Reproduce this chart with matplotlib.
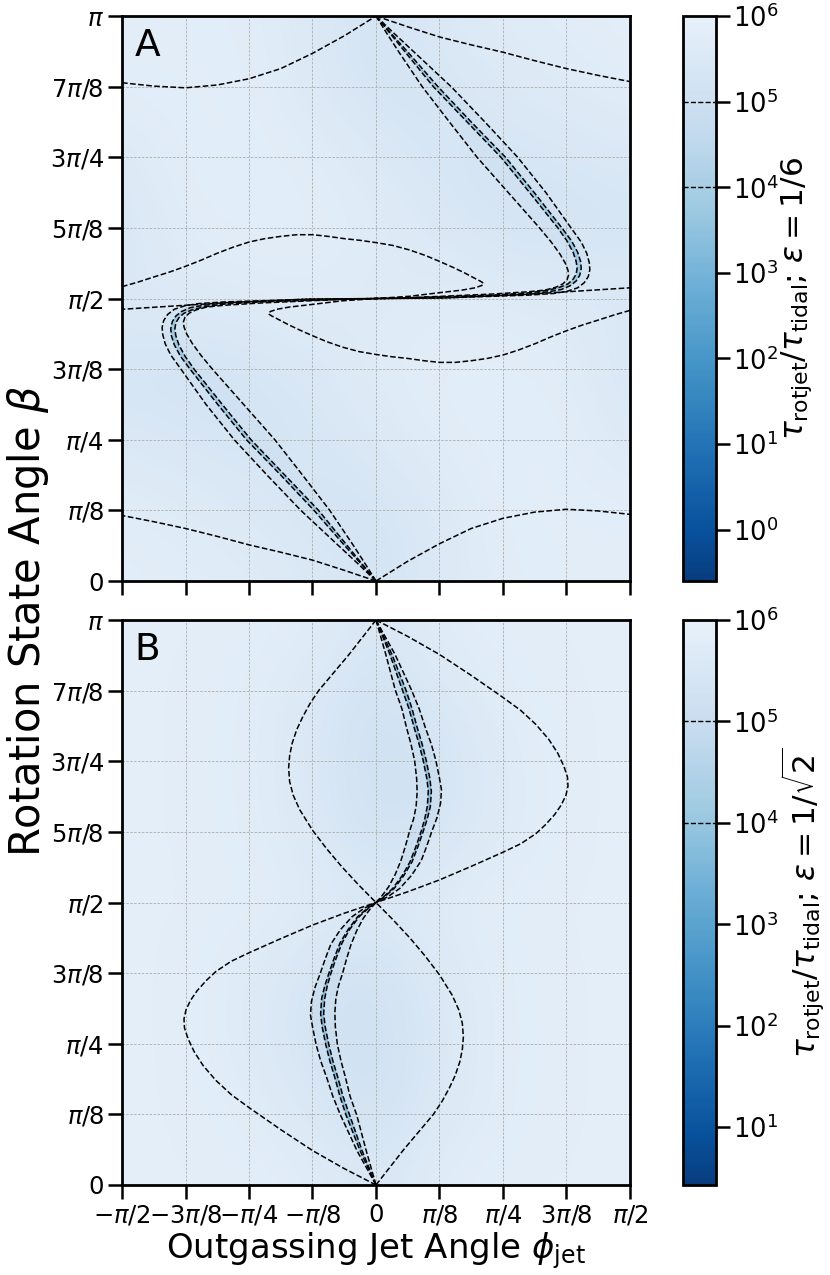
import numpy as np
import matplotlib
matplotlib.use("Agg")
import matplotlib.pyplot as plt
from matplotlib.colors import LogNorm, ListedColormap

PI = np.pi

# ---------------- axis ticks (units of pi) ----------------
x_ticks = [-0.5, -0.375, -0.25, -0.125, 0, 0.125, 0.25, 0.375, 0.5]
x_tick_labels = [r'$-\pi/2$', r'$-3\pi/8$', r'$-\pi/4$', r'$-\pi/8$', r'$0$',
                 r'$\pi/8$', r'$\pi/4$', r'$3\pi/8$', r'$\pi/2$']
y_ticks = [0, 0.125, 0.25, 0.375, 0.5, 0.625, 0.75, 0.875, 1.0]
y_tick_labels = [r'$0$', r'$\pi/8$', r'$\pi/4$', r'$3\pi/8$', r'$\pi/2$',
                 r'$5\pi/8$', r'$3\pi/4$', r'$7\pi/8$', r'$\pi$']

# ---------------- colour scale ranges (log10) ----------------
A_log_min, A_log_max = -0.6, 6.0
B_log_min, B_log_max = 0.43, 6.0
contour_levels = [1e4, 1e5]

# ---------------- coarse background field, log10 values ----------------
# rows: beta = 0 .. pi (step pi/8); cols: phi = -pi/2 .. pi/2 (step pi/8)
A_field_log = [
    [5.80, 5.75, 5.70, 5.55, 5.15, 5.55, 5.75, 5.80, 5.80],
    [5.75, 5.65, 5.55, 5.30, 5.20, 5.55, 5.80, 5.80, 5.80],
    [5.50, 5.40, 5.30, 5.30, 5.55, 5.75, 5.80, 5.80, 5.55],
    [5.30, 5.20, 5.25, 5.50, 5.70, 5.80, 5.80, 5.75, 5.35],
    [5.55, 5.60, 5.65, 5.70, 5.60, 5.70, 5.65, 5.60, 5.55],
    [5.35, 5.75, 5.80, 5.80, 5.70, 5.50, 5.25, 5.20, 5.30],
    [5.55, 5.80, 5.80, 5.75, 5.55, 5.30, 5.30, 5.40, 5.50],
    [5.80, 5.80, 5.80, 5.55, 5.20, 5.30, 5.55, 5.65, 5.75],
    [5.80, 5.80, 5.75, 5.55, 5.15, 5.55, 5.70, 5.75, 5.80],
]
B_field_log = [
    [5.85, 5.85, 5.85, 5.80, 5.45, 5.80, 5.85, 5.85, 5.85],
    [5.85, 5.85, 5.80, 5.55, 5.20, 5.60, 5.80, 5.85, 5.85],
    [5.85, 5.85, 5.70, 5.30, 5.10, 5.55, 5.80, 5.85, 5.85],
    [5.85, 5.85, 5.70, 5.40, 5.20, 5.60, 5.80, 5.85, 5.85],
    [5.85, 5.85, 5.85, 5.75, 5.60, 5.75, 5.85, 5.85, 5.85],
    [5.85, 5.85, 5.80, 5.60, 5.20, 5.40, 5.70, 5.85, 5.85],
    [5.85, 5.85, 5.80, 5.55, 5.10, 5.30, 5.70, 5.85, 5.85],
    [5.85, 5.85, 5.80, 5.60, 5.20, 5.55, 5.80, 5.85, 5.85],
    [5.85, 5.85, 5.85, 5.80, 5.45, 5.80, 5.85, 5.85, 5.85],
]
# log10 value inside the 1e5 band and inside the 1e4 band
band_outer_log = 4.8
band_inner_log = 3.5

# ---------------- contour curves, panel A (phi/pi, beta/pi) ----------------
A_T1 = [(0, 1), (0.0625, 0.981), (0.125, 0.963), (0.1875, 0.949), (0.25, 0.936),
        (0.3125, 0.921), (0.375, 0.907), (0.4375, 0.895), (0.5, 0.884)]
A_T2 = [(-0.5, 0.882), (-0.4375, 0.876), (-0.375, 0.873), (-0.3125, 0.878), (-0.25, 0.889),
        (-0.1875, 0.907), (-0.125, 0.934), (-0.0625, 0.965), (0, 1)]
A_T3 = [(0, 0), (-0.0625, 0.019), (-0.125, 0.037), (-0.1875, 0.051), (-0.25, 0.064),
        (-0.3125, 0.079), (-0.375, 0.093), (-0.4375, 0.105), (-0.5, 0.116)]
A_T4 = [(0, 0), (0.0625, 0.035), (0.125, 0.066), (0.1875, 0.093), (0.25, 0.111),
        (0.3125, 0.122), (0.375, 0.127), (0.4375, 0.124), (0.5, 0.118)]
A_L1a = [(0, 0.5), (0.131, 0.501), (0.289, 0.507), (0.394, 0.513), (0.5, 0.519)]
A_L1b = [(-0.5, 0.521), (-0.469, 0.529), (-0.438, 0.538), (-0.406, 0.547), (-0.375, 0.557),
         (-0.344, 0.568), (-0.313, 0.580), (-0.281, 0.591), (-0.25, 0.600), (-0.219, 0.606),
         (-0.188, 0.610), (-0.156, 0.613), (-0.125, 0.613), (-0.094, 0.610), (-0.0625, 0.606),
         (-0.031, 0.603), (0, 0.599), (0.033, 0.594), (0.066, 0.586), (0.098, 0.576),
         (0.127, 0.565), (0.152, 0.555), (0.173, 0.546), (0.192, 0.537), (0.205, 0.531),
         (0.212, 0.527), (0.208, 0.523), (0.195, 0.519), (0.170, 0.515), (0.131, 0.511),
         (0.066, 0.504), (0, 0.5)]
A_L2a = [(0, 0.5), (-0.131, 0.499), (-0.289, 0.493), (-0.394, 0.487), (-0.5, 0.481)]
A_L2b = [(0.5, 0.479), (0.469, 0.471), (0.438, 0.462), (0.406, 0.453), (0.375, 0.443),
         (0.344, 0.432), (0.313, 0.420), (0.281, 0.409), (0.25, 0.400), (0.219, 0.394),
         (0.188, 0.390), (0.156, 0.387), (0.125, 0.387), (0.094, 0.390), (0.0625, 0.394),
         (0.031, 0.397), (0, 0.401), (-0.033, 0.406), (-0.066, 0.414), (-0.098, 0.424),
         (-0.127, 0.435), (-0.152, 0.445), (-0.173, 0.454), (-0.192, 0.463), (-0.205, 0.469),
         (-0.212, 0.473), (-0.208, 0.477), (-0.195, 0.481), (-0.170, 0.485), (-0.131, 0.489),
         (-0.066, 0.496), (0, 0.5)]
A_SA1 = [(0, 1), (0.023, 0.967), (0.046, 0.935), (0.091, 0.875), (0.145, 0.812), (0.199, 0.750),
         (0.261, 0.687), (0.322, 0.625), (0.345, 0.600), (0.362, 0.579), (0.373, 0.562),
         (0.378, 0.550), (0.379, 0.541), (0.376, 0.533), (0.368, 0.526), (0.354, 0.520),
         (0.333, 0.515), (0.300, 0.512), (0.230, 0.508), (0.131, 0.504), (0.052, 0.501), (0, 0.5)]
A_SA2 = [(0, 1), (0.028, 0.969), (0.056, 0.938), (0.113, 0.875), (0.180, 0.812), (0.246, 0.750),
         (0.303, 0.687), (0.358, 0.625), (0.376, 0.602), (0.388, 0.582), (0.394, 0.566),
         (0.396, 0.554), (0.394, 0.543), (0.388, 0.534), (0.378, 0.526), (0.362, 0.520),
         (0.340, 0.515), (0.300, 0.510), (0.230, 0.506), (0.131, 0.503), (0, 0.5)]
A_SA3 = [(0, 1), (0.030, 0.969), (0.061, 0.938), (0.122, 0.875), (0.188, 0.812), (0.255, 0.750),
         (0.312, 0.687), (0.366, 0.625), (0.385, 0.602), (0.397, 0.582), (0.403, 0.565),
         (0.404, 0.553), (0.401, 0.541), (0.394, 0.531), (0.383, 0.523), (0.365, 0.516),
         (0.340, 0.512), (0.300, 0.508), (0.230, 0.505), (0.131, 0.502), (0, 0.5)]
A_SA4 = [(0, 1), (0.036, 0.969), (0.073, 0.938), (0.148, 0.875), (0.215, 0.812), (0.279, 0.750),
         (0.335, 0.687), (0.384, 0.625), (0.404, 0.600), (0.415, 0.580), (0.420, 0.563),
         (0.421, 0.551), (0.418, 0.539), (0.410, 0.528), (0.397, 0.519), (0.377, 0.513),
         (0.350, 0.509), (0.300, 0.506), (0.230, 0.504), (0.131, 0.501), (0, 0.5)]
A_SB1 = [(0, 0), (-0.023, 0.033), (-0.046, 0.065), (-0.091, 0.125), (-0.145, 0.188), (-0.199, 0.250),
         (-0.261, 0.313), (-0.322, 0.375), (-0.345, 0.400), (-0.362, 0.421), (-0.373, 0.438),
         (-0.378, 0.450), (-0.379, 0.459), (-0.376, 0.467), (-0.368, 0.474), (-0.354, 0.480),
         (-0.333, 0.485), (-0.300, 0.488), (-0.230, 0.492), (-0.131, 0.496), (-0.052, 0.499), (0, 0.5)]
A_SB2 = [(0, 0), (-0.028, 0.031), (-0.056, 0.062), (-0.113, 0.125), (-0.180, 0.188), (-0.246, 0.250),
         (-0.303, 0.313), (-0.358, 0.375), (-0.376, 0.398), (-0.388, 0.418), (-0.394, 0.434),
         (-0.396, 0.446), (-0.394, 0.457), (-0.388, 0.466), (-0.378, 0.474), (-0.362, 0.480),
         (-0.340, 0.485), (-0.300, 0.490), (-0.230, 0.494), (-0.131, 0.497), (0, 0.5)]
A_SB3 = [(0, 0), (-0.030, 0.031), (-0.061, 0.062), (-0.122, 0.125), (-0.188, 0.188), (-0.255, 0.250),
         (-0.312, 0.313), (-0.366, 0.375), (-0.385, 0.398), (-0.397, 0.418), (-0.403, 0.435),
         (-0.404, 0.447), (-0.401, 0.459), (-0.394, 0.469), (-0.383, 0.477), (-0.365, 0.484),
         (-0.340, 0.488), (-0.300, 0.492), (-0.230, 0.495), (-0.131, 0.498), (0, 0.5)]
A_SB4 = [(0, 0), (-0.036, 0.031), (-0.073, 0.062), (-0.148, 0.125), (-0.215, 0.188), (-0.279, 0.250),
         (-0.335, 0.313), (-0.384, 0.375), (-0.404, 0.400), (-0.415, 0.420), (-0.420, 0.437),
         (-0.421, 0.449), (-0.418, 0.461), (-0.410, 0.472), (-0.397, 0.481), (-0.377, 0.487),
         (-0.350, 0.491), (-0.300, 0.494), (-0.230, 0.496), (-0.131, 0.499), (0, 0.5)]

# ---------------- contour curves, panel B ----------------
B_UL = [(0, 1), (-0.027, 0.969), (-0.054, 0.938), (-0.084, 0.906), (-0.113, 0.875), (-0.130, 0.852),
        (-0.144, 0.829), (-0.156, 0.806), (-0.165, 0.782), (-0.170, 0.760), (-0.172, 0.738),
        (-0.170, 0.714), (-0.163, 0.690), (-0.150, 0.664), (-0.125, 0.628), (-0.097, 0.595),
        (-0.067, 0.563), (-0.034, 0.531), (0, 0.5)]
B_LR = [(0, 0), (0.027, 0.031), (0.054, 0.062), (0.084, 0.094), (0.113, 0.125), (0.130, 0.148),
        (0.144, 0.171), (0.156, 0.194), (0.165, 0.218), (0.170, 0.240), (0.172, 0.262),
        (0.170, 0.286), (0.163, 0.310), (0.150, 0.336), (0.125, 0.372), (0.097, 0.405),
        (0.067, 0.437), (0.034, 0.469), (0, 0.5)]
B_UR = [(0, 1), (0.0625, 0.971), (0.125, 0.939), (0.1875, 0.902), (0.25, 0.863), (0.285, 0.840),
        (0.315, 0.815), (0.340, 0.789), (0.358, 0.764), (0.370, 0.741), (0.377, 0.722),
        (0.378, 0.706), (0.374, 0.690), (0.365, 0.673), (0.352, 0.656), (0.334, 0.638),
        (0.315, 0.622), (0.285, 0.604), (0.25, 0.589), (0.1875, 0.564), (0.125, 0.540),
        (0.0625, 0.519), (0, 0.5)]
B_LL = [(0, 0), (-0.0625, 0.029), (-0.125, 0.061), (-0.1875, 0.098), (-0.25, 0.137), (-0.285, 0.160),
        (-0.315, 0.185), (-0.340, 0.211), (-0.358, 0.236), (-0.370, 0.259), (-0.377, 0.278),
        (-0.378, 0.294), (-0.374, 0.310), (-0.365, 0.327), (-0.352, 0.344), (-0.334, 0.362),
        (-0.315, 0.378), (-0.285, 0.396), (-0.25, 0.411), (-0.1875, 0.436), (-0.125, 0.460),
        (-0.0625, 0.481), (0, 0.5)]
B_Su1 = [(0, 1), (0.019, 0.94), (0.038, 0.876), (0.051, 0.843), (0.060, 0.81), (0.069, 0.78),
         (0.076, 0.751), (0.080, 0.72), (0.081, 0.695), (0.079, 0.67), (0.074, 0.648), (0.066, 0.626),
         (0.058, 0.60), (0.049, 0.574), (0.038, 0.550), (0.025, 0.528), (0.012, 0.512), (0, 0.5)]
B_Su2 = [(0, 1), (0.027, 0.94), (0.052, 0.876), (0.065, 0.843), (0.075, 0.81), (0.085, 0.78),
         (0.093, 0.751), (0.100, 0.72), (0.103, 0.697), (0.101, 0.67), (0.096, 0.648), (0.089, 0.626),
         (0.079, 0.60), (0.067, 0.572), (0.052, 0.548), (0.033, 0.525), (0.016, 0.511), (0, 0.5)]
B_Su3 = [(0, 1), (0.031, 0.94), (0.059, 0.876), (0.071, 0.843), (0.081, 0.81), (0.091, 0.78),
         (0.099, 0.751), (0.106, 0.72), (0.109, 0.697), (0.107, 0.67), (0.101, 0.648), (0.093, 0.626),
         (0.083, 0.60), (0.071, 0.572), (0.055, 0.548), (0.036, 0.525), (0.018, 0.511), (0, 0.5)]
B_Su4 = [(0, 1), (0.037, 0.94), (0.070, 0.876), (0.085, 0.843), (0.097, 0.81), (0.109, 0.78),
         (0.118, 0.751), (0.125, 0.72), (0.129, 0.699), (0.127, 0.675), (0.120, 0.65), (0.110, 0.626),
         (0.100, 0.60), (0.089, 0.574), (0.070, 0.548), (0.047, 0.525), (0.023, 0.510), (0, 0.5)]
B_Sl1 = [(0, 0), (-0.019, 0.06), (-0.038, 0.124), (-0.051, 0.157), (-0.060, 0.19), (-0.069, 0.22),
         (-0.076, 0.249), (-0.080, 0.28), (-0.081, 0.305), (-0.079, 0.33), (-0.074, 0.352), (-0.066, 0.374),
         (-0.058, 0.40), (-0.049, 0.426), (-0.038, 0.450), (-0.025, 0.472), (-0.012, 0.488), (0, 0.5)]
B_Sl2 = [(0, 0), (-0.027, 0.06), (-0.052, 0.124), (-0.065, 0.157), (-0.075, 0.19), (-0.085, 0.22),
         (-0.093, 0.249), (-0.100, 0.28), (-0.103, 0.303), (-0.101, 0.33), (-0.096, 0.352), (-0.089, 0.374),
         (-0.079, 0.40), (-0.067, 0.428), (-0.052, 0.452), (-0.033, 0.475), (-0.016, 0.489), (0, 0.5)]
B_Sl3 = [(0, 0), (-0.031, 0.06), (-0.059, 0.124), (-0.071, 0.157), (-0.081, 0.19), (-0.091, 0.22),
         (-0.099, 0.249), (-0.106, 0.28), (-0.109, 0.303), (-0.107, 0.33), (-0.101, 0.352), (-0.093, 0.374),
         (-0.083, 0.40), (-0.071, 0.428), (-0.055, 0.452), (-0.036, 0.475), (-0.018, 0.489), (0, 0.5)]
B_Sl4 = [(0, 0), (-0.037, 0.06), (-0.070, 0.124), (-0.085, 0.157), (-0.097, 0.19), (-0.109, 0.22),
         (-0.118, 0.249), (-0.125, 0.28), (-0.129, 0.301), (-0.127, 0.325), (-0.120, 0.35), (-0.110, 0.374),
         (-0.100, 0.40), (-0.089, 0.426), (-0.070, 0.452), (-0.047, 0.475), (-0.023, 0.490), (0, 0.5)]

A_curves = [A_T1, A_T2, A_T3, A_T4, A_L1a, A_L1b, A_L2a, A_L2b,
            A_SA1, A_SA2, A_SA3, A_SA4, A_SB1, A_SB2, A_SB3, A_SB4]
A_bands = [(A_SA1, A_SA4), (A_SB1, A_SB4)]
A_inner = [(A_SA2, A_SA3), (A_SB2, A_SB3)]
B_curves = [B_UL, B_LR, B_UR, B_LL, B_Su1, B_Su2, B_Su3, B_Su4, B_Sl1, B_Sl2, B_Sl3, B_Sl4]
B_bands = [(B_Su1, B_Su4), (B_Sl1, B_Sl4)]
B_inner = [(B_Su2, B_Su3), (B_Sl2, B_Sl3)]

A_cbar_label = r'$\tau_{\rm rotjet}/\tau_{\rm tidal}$; $\varepsilon = 1/6$'
B_cbar_label = r'$\tau_{\rm rotjet}/\tau_{\rm tidal}$; $\varepsilon = 1/\sqrt{2}$'

# ---------------- figure ----------------
cmap = ListedColormap(plt.cm.Blues(np.linspace(0.95, 0.08, 256)))

fig = plt.figure(figsize=(8.3, 12.75), dpi=100)
axA = fig.add_axes([0.147, 0.5443, 0.612, 0.4431])
axB = fig.add_axes([0.147, 0.0706, 0.612, 0.4431])
caxA = fig.add_axes([0.8229, 0.5443, 0.0398, 0.4431])
caxB = fig.add_axes([0.8229, 0.0706, 0.0398, 0.4431])


def arr(c):
    a = np.array(c, dtype=float)
    return a[:, 0] * PI, a[:, 1] * PI


def draw_panel(ax, cax, field_log, lmin, lmax, curves, bands, inner, letter, cl, show_xlabels):
    norm = LogNorm(vmin=10 ** lmin, vmax=10 ** lmax)
    f = 10 ** np.array(field_log)
    h = PI / 16
    im = ax.imshow(f, origin='lower', extent=(-PI / 2 - h, PI / 2 + h, -h, PI + h),
                   cmap=cmap, norm=norm, interpolation='bicubic', aspect='auto', zorder=0)
    for c1, c2 in bands:
        x1, y1 = arr(c1)
        x2, y2 = arr(c2)
        ax.fill(np.r_[x1, x2[::-1]], np.r_[y1, y2[::-1]], color=cmap(norm(10 ** band_outer_log)),
                alpha=0.45, lw=0, zorder=0.5)
    for c1, c2 in inner:
        x1, y1 = arr(c1)
        x2, y2 = arr(c2)
        ax.fill(np.r_[x1, x2[::-1]], np.r_[y1, y2[::-1]], color=cmap(norm(10 ** band_inner_log)),
                alpha=0.8, lw=0, zorder=0.6)
    for c in curves:
        x, y = arr(c)
        ax.plot(x, y, color='k', ls='--', lw=1.1, zorder=2, solid_joinstyle='round')
    ax.set_xlim(-PI / 2, PI / 2)
    ax.set_ylim(0, PI)
    ax.set_xticks(np.array(x_ticks) * PI)
    ax.set_yticks(np.array(y_ticks) * PI)
    ax.set_yticklabels(y_tick_labels)
    if show_xlabels:
        ax.set_xticklabels(x_tick_labels)
    else:
        ax.set_xticklabels([])
    ax.tick_params(direction='out', length=10, width=1.8, labelsize=17.5, pad=3)
    ax.grid(True, color='#b5b5b5', lw=0.7, ls=(0, (2.5, 1.5)), zorder=2.5)
    for s in ax.spines.values():
        s.set_linewidth(2.0)
    ax.text(0.025, 0.978, letter, transform=ax.transAxes, fontsize=27, va='top', ha='left')

    cb = fig.colorbar(im, cax=cax)
    cb.minorticks_off()
    cb.add_lines(contour_levels, ['k', 'k'], [1.0, 1.0])
    for ln in cb.lines:
        ln.set_linestyle('--')
    cb.outline.set_linewidth(2.0)
    cb.ax.tick_params(labelsize=18.5, length=10, width=1.8, pad=2)
    cb.set_label(cl, fontsize=22.5, labelpad=1)
    return im


draw_panel(axA, caxA, A_field_log, A_log_min, A_log_max, A_curves, A_bands, A_inner, 'A', A_cbar_label, False)
draw_panel(axB, caxB, B_field_log, B_log_min, B_log_max, B_curves, B_bands, B_inner, 'B', B_cbar_label, True)

axB.set_xlabel(r'Outgassing Jet Angle $\phi_{\rm jet}$', fontsize=24.5, labelpad=2)
fig.text(0.034, 0.513, r'Rotation State Angle $\beta$', rotation=90, fontsize=30,
         va='center', ha='center')

fig.savefig('out.png', dpi=100)
